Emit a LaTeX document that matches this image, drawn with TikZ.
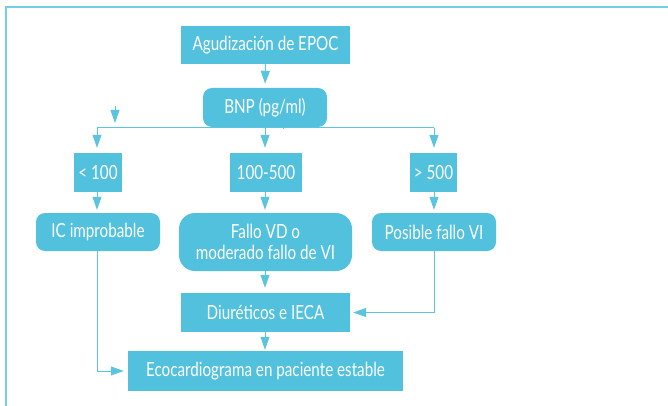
\documentclass[tikz,border=0pt]{standalone}
\usepackage{fontspec}
\setmainfont{Lato}[FakeStretch=0.78]
\usetikzlibrary{arrows.meta}
\definecolor{boxc}{HTML}{52C1DD}
\definecolor{linec}{HTML}{5BC4DF}
\definecolor{framec}{HTML}{74CFE6}
\tikzset{
  bx/.style={fill=boxc, draw=none, text=white, inner sep=0pt, align=center,
    font=\fontsize{19.5}{21}\selectfont},
  rbx/.style={bx, rounded corners=9pt},
  conn/.style={draw=linec, line width=1pt},
  arr/.style={conn, -{Triangle[width=9pt,length=13pt]}},
}
\begin{document}
\begin{tikzpicture}[x=1pt,y=-1pt]
\useasboundingbox (0,0) rectangle (668,406);
\draw[draw=framec, line width=1.6pt] (6,406) -- (6,7) -- (668,7);
\node[bx, minimum width=169pt, minimum height=38pt] (agud) at (265.5,45) {Agudización de EPOC};
\node[rbx, minimum width=124pt, minimum height=39pt] (bnp) at (265,107.5) {BNP (pg/ml)};
\node[bx, minimum width=48pt, minimum height=39pt] (lt) at (98,172.5) {< 100};
\node[bx, minimum width=72pt, minimum height=39pt] (mid) at (266,172.5) {100-500};
\node[bx, minimum width=47pt, minimum height=39pt] (gt) at (433.5,172.5) {> 500};
\node[rbx, minimum width=124pt, minimum height=38pt] (ic) at (98,232) {IC improbable};
\node[rbx, rounded corners=16pt, minimum width=173pt, minimum height=58pt] (fallo) at (265.5,242) {Fallo VD o\\moderado fallo de VI};
\node[rbx, minimum width=124pt, minimum height=38pt] (pos) at (434,232) {Posible fallo VI};
\node[bx, minimum width=169pt, minimum height=39pt] (diur) at (265.5,312.5) {Diuréticos e IECA};
\node[bx, minimum width=275pt, minimum height=40pt] (eco) at (265.5,371) {Ecocardiograma en paciente estable};
\coordinate (sl) at (97,128);
\coordinate (sm) at (265,128);
\coordinate (sr) at (434,128);
\coordinate (s1) at (115,106);
\coordinate (s2) at (115,123);
\draw[arr, shorten >=4pt] (agud.south) -- (bnp.north);
\draw[conn] ([xshift=18pt]bnp.south) -- ++(0,1.5);
\draw[conn] (sl) -- (sr);
\draw[arr] (s1) -- (s2);
\draw[arr, shorten >=5pt] (sl) -- (sl |- lt.north);
\draw[arr, shorten >=5pt] (sm) -- (sm |- mid.north);
\draw[arr, shorten >=5pt] (sr) -- (sr |- gt.north);
\draw[arr, shorten >=3pt] (sl |- lt.south) -- (sl |- ic.north);
\draw[arr, shorten >=3pt] (sm |- mid.south) -- (sm |- fallo.north);
\draw[arr, shorten >=3pt] (sr |- gt.south) -- (sr |- pos.north);
\draw[arr, shorten >=5pt] (sm |- fallo.south) -- (sm |- diur.north);
\draw[arr, shorten >=3pt] (pos.south) |- (diur.east);
\draw[arr, shorten >=1pt] (sm |- diur.south) -- (sm |- eco.north);
\draw[arr, shorten >=4pt] (sl |- ic.south) |- (eco.west);
\end{tikzpicture}
\end{document}
